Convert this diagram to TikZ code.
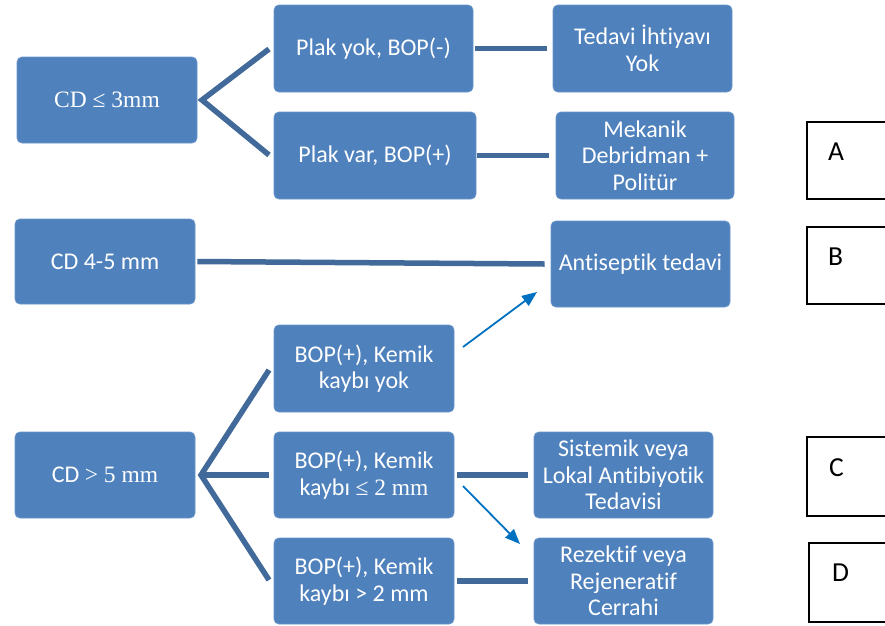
\documentclass[tikz,border=0pt]{standalone}
\usepackage{fontspec}
\setmainfont[Ligatures=NoCommon]{Carlito}
\newfontfamily\tms{Liberation Serif}
\usetikzlibrary{arrows.meta}
\definecolor{boxfill}{HTML}{4F81BD}
\definecolor{boxline}{HTML}{6A95C8}
\definecolor{connc}{HTML}{41699A}
\definecolor{arrc}{HTML}{0070C0}
\newcommand{\tmsz}{\tms\fontsize{23.5}{26.5}\selectfont}
\begin{document}
\begin{tikzpicture}[x=1pt,y=-1pt,
 box/.style={draw=boxline, line width=0.8pt, fill=boxfill, rounded corners=5pt, text=white, align=center, font=\fontsize{24}{26.5}\selectfont, inner sep=0pt},
 connline/.style={draw=connc, line width=5.5pt},
 arrw/.style={draw=arrc, line width=1.8pt, -{Triangle[length=15pt,width=12pt]}},
 letbox/.style={draw=black, line width=1.3pt},
 letter/.style={anchor=base west, font=\fontsize{27.5}{32}\selectfont, inner sep=0pt}]
\useasboundingbox (0,0) rectangle (885,625);

% boxes
\node[box, minimum width=180pt, minimum height=86pt] (cd3) at (107,100) {\tmsz CD ≤ 3mm};
\node[box, minimum width=199pt, minimum height=87pt] (py) at (373.5,48.5) {Plak yok, BOP(-)};
\node[box, minimum width=202pt, minimum height=87pt] (pv) at (375,155.5) {Plak var, BOP(+)};
\node[box, minimum width=179pt, minimum height=87pt] (ted) at (642.5,48.5) {Tedavi İhtiyavı\\Yok};
\node[box, minimum width=178pt, minimum height=87pt] (mek) at (645,155.5) {Mekanik\\Debridman +\\Politür};
\node[box, minimum width=180pt, minimum height=85pt] (cd45) at (105,261.5) {CD 4-5 mm};
\node[box, minimum width=179pt, minimum height=86pt] (anti) at (640.5,264) {Antiseptik tedavi};
\node[box, minimum width=180pt, minimum height=86pt] (cd5) at (105,475) {CD {\tmsz > 5 mm}};
\node[box, minimum width=180pt, minimum height=87pt] (bk1) at (364,368.5) {BOP(+), Kemik\\kaybı yok};
\node[box, minimum width=180pt, minimum height=86pt] (bk2) at (364,475) {BOP(+), Kemik\\kaybı {\tmsz ≤ 2 mm}};
\node[box, minimum width=180pt, minimum height=86pt] (bk3) at (364,581) {BOP(+), Kemik\\kaybı > 2 mm};
\node[box, minimum width=179pt, minimum height=86pt] (sis) at (623.5,475) {Sistemik veya\\Lokal Antibiyotik\\Tedavisi};
\node[box, minimum width=179pt, minimum height=86pt] (rez) at (623.5,581) {Rezektif veya\\Rejeneratif\\Cerrahi};

% letter boxes
\draw[letbox] (807,122) rectangle (888,199);
\draw[letbox] (807,227) rectangle (888,304);
\draw[letbox] (807,437) rectangle (888,516);
\draw[letbox] (809,543) rectangle (888,622);
\node[letter] (la) at (828,160) {A};
\node[letter] (lb) at (828,265) {B};
\node[letter] (lc) at (829,476) {C};
\node[letter] (ld) at (832,581) {D};

% forks
\coordinate (f1) at (202,100);
\coordinate (f1a) at (269,49);
\coordinate (f1b) at (269,155);
\draw[connline] (f1a) -- (f1) -- (f1b);
\coordinate (f2) at (201,475);
\coordinate (f2a) at (269,370);
\coordinate (f2b) at (269,475);
\coordinate (f2c) at (269,580);
\draw[connline] (f2a) -- (f2) -- (f2c);
\draw[connline] (f2) -- (f2b);

% straight connectors
\draw[connline] ([xshift=2pt]py.east) -- ([xshift=-6pt]ted.west);
\draw[connline] ([xshift=1pt]pv.east) -- ([xshift=-7pt]mek.west);
\draw[connline] ([xshift=2pt]cd45.east) -- ([xshift=-6pt]anti.west);
\draw[connline] ([xshift=3pt]bk2.east) -- ([xshift=-6pt]sis.west);
\draw[connline] ([xshift=3pt]bk3.east) -- ([xshift=-6pt]rez.west);

% arrows
\coordinate (a1s) at (463,347);
\coordinate (a1e) at (537,292);
\draw[arrw] (a1s) -- (a1e);
\coordinate (a2s) at (463,486);
\coordinate (a2e) at (520,544);
\draw[arrw] (a2s) -- (a2e);
\end{tikzpicture}
\end{document}
